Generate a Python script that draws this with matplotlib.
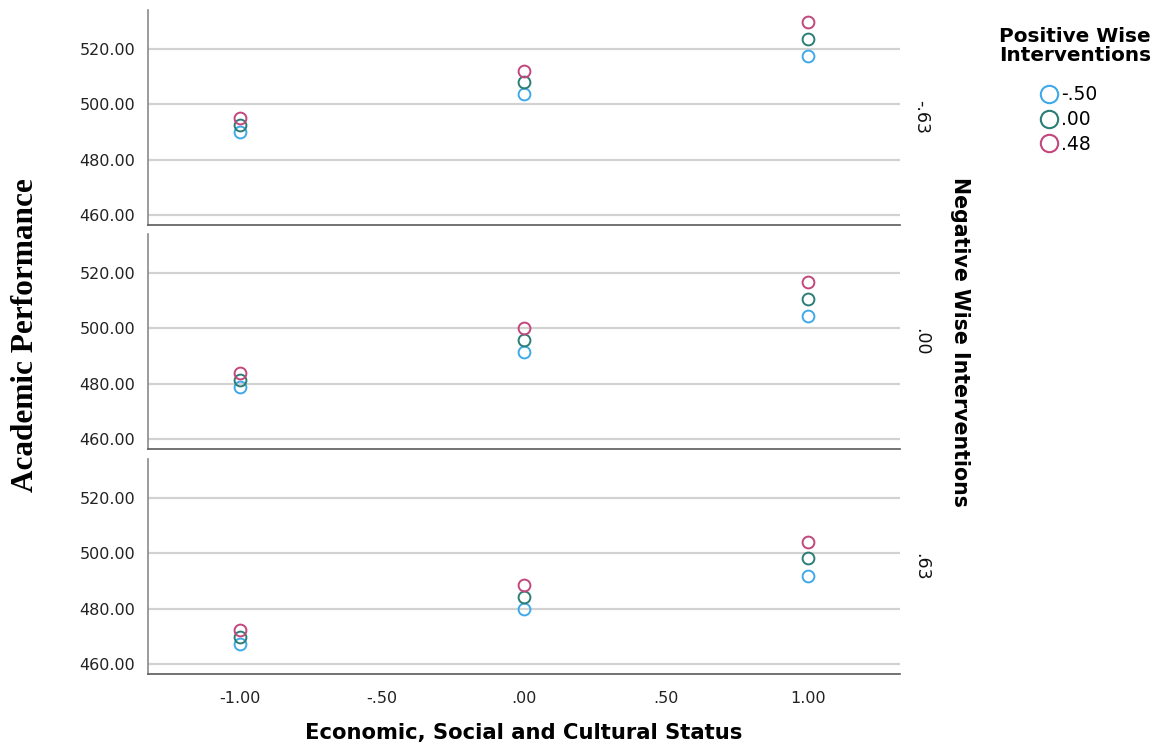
import matplotlib
matplotlib.use("Agg")
import matplotlib.pyplot as plt
from matplotlib.lines import Line2D

# x: Economic, Social and Cultural Status
escs = [-1.0, 0.0, 1.0]

# rows: Negative Wise Interventions level
neg_levels = ["-.63", ".00", ".63"]
# series: Positive Wise Interventions level
pos_levels = ["-.50", ".00", ".48"]

# predicted Academic Performance, one list per (neg, pos) pair
neg_m63_pos_m50 = [490.1, 503.8, 517.5]
neg_m63_pos_000 = [492.6, 508.1, 523.6]
neg_m63_pos_048 = [495.1, 512.1, 529.7]

neg_000_pos_m50 = [478.6, 491.4, 504.5]
neg_000_pos_000 = [481.4, 495.7, 510.6]
neg_000_pos_048 = [484.0, 500.0, 516.8]

neg_063_pos_m50 = [467.4, 479.8, 491.7]
neg_063_pos_000 = [469.9, 484.2, 498.2]
neg_063_pos_048 = [472.4, 488.5, 504.0]

panels = [
    [neg_m63_pos_m50, neg_m63_pos_000, neg_m63_pos_048],
    [neg_000_pos_m50, neg_000_pos_000, neg_000_pos_048],
    [neg_063_pos_m50, neg_063_pos_000, neg_063_pos_048],
]

yticks = [460, 480, 500, 520]
xticks = [-1.0, -0.5, 0.0, 0.5, 1.0]
xtick_labels = ["-1.00", "-.50", ".00", ".50", "1.00"]

COLORS = ["#3fa9ea", "#2b7d76", "#c2477c"]
GRID = "#d2d2d2"

plt.rcParams["font.family"] = ["DejaVu Sans"]

fig = plt.figure(figsize=(11.6, 7.49), dpi=100)
left, right = 148 / 1160, 900 / 1160
rows_px = [(10, 225), (234, 449), (459, 674)]

axes = []
for i, (top, bot) in enumerate(rows_px):
    ax = fig.add_axes([left, 1 - bot / 749, right - left, (bot - top) / 749])
    axes.append(ax)
    for j, series in enumerate(panels[i]):
        ax.plot(escs, series, "o", linestyle="none", markersize=8.5,
                markerfacecolor="none", markeredgecolor=COLORS[j],
                markeredgewidth=1.4, zorder=3)
    ax.set_xlim(-1.324, 1.324)
    ax.set_ylim(456.4, 534.0)
    ax.set_yticks(yticks)
    ax.set_yticklabels([f"{v:.2f}" for v in yticks])
    ax.set_xticks(xticks)
    ax.grid(axis="y", color=GRID, linewidth=1.6, zorder=0)
    ax.set_axisbelow(True)
    for side in ("top", "right"):
        ax.spines[side].set_visible(False)
    ax.spines["left"].set_color("#8a8a8a")
    ax.spines["bottom"].set_color("#5a5a5a")
    ax.spines["left"].set_linewidth(1.2)
    ax.spines["bottom"].set_linewidth(1.2)
    ax.tick_params(length=0, labelsize=11.5, colors="#222222", pad=9)
    if i < 2:
        ax.tick_params(labelbottom=False)
    else:
        ax.set_xticklabels(xtick_labels)
        ax.tick_params(axis="x", pad=12)
    ax.text(1.016, 0.5, neg_levels[i], transform=ax.transAxes, rotation=270,
            ha="left", va="center", fontsize=12.5, color="#111111")

fig.text(960 / 1160, 1 - 342 / 749, "Negative Wise Interventions", rotation=270,
         ha="center", va="center", fontsize=14.8, fontweight="bold")
fig.text(26 / 1160, 1 - 335 / 749, "Academic Performance", rotation=90,
         ha="center", va="center", fontsize=22.5, fontweight="bold",
         family=["Liberation Serif", "DejaVu Serif"])
fig.text(524 / 1160, 1 - 733 / 749, "Economic, Social and Cultural Status",
         ha="center", va="center", fontsize=15.2, fontweight="bold")

fig.text(1075 / 1160, 1 - 46 / 749, "Positive Wise\nInterventions",
         ha="center", va="center", fontsize=14.4, fontweight="bold",
         linespacing=0.95)

handles = [Line2D([], [], marker="o", linestyle="none", markersize=12.5,
                  markerfacecolor="none", markeredgecolor=c, markeredgewidth=1.5)
           for c in COLORS]
fig.legend(handles, pos_levels, loc="upper left",
           bbox_to_anchor=(1030 / 1160, 1 - 78 / 749), borderaxespad=0,
           frameon=False, fontsize=13.5, handletextpad=0.05,
           labelspacing=0.3, handlelength=1.2)

fig.savefig("out.png", dpi=100, facecolor="white")
